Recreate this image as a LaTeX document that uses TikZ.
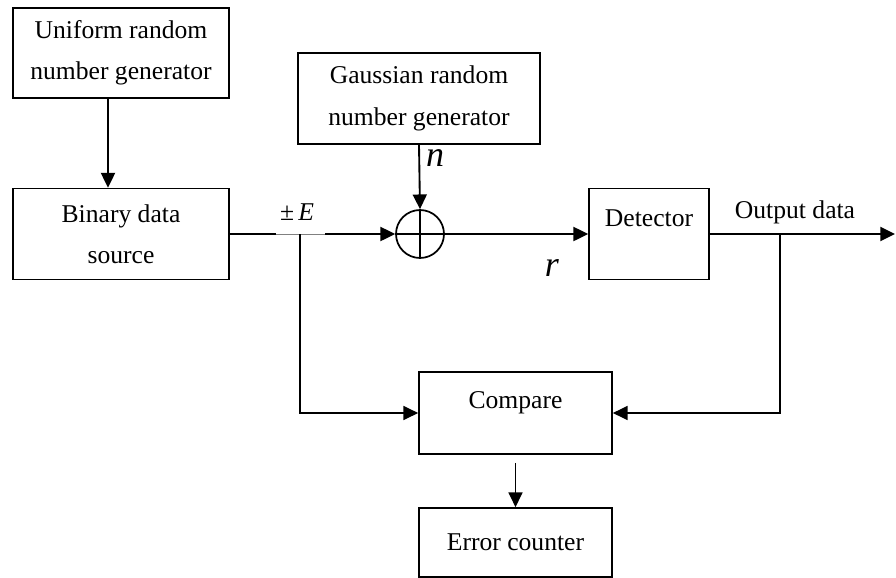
\documentclass[tikz,border=0pt]{standalone}
\usepackage{fontspec}
\setmainfont{Liberation Serif}
\usetikzlibrary{arrows.meta}

\begin{document}
\begin{tikzpicture}[x=0.75pt, y=-0.75pt,
  block/.style={draw, line width=1.3pt, align=center, inner sep=0pt,
    font=\fontsize{19.2}{31}\selectfont},
  wire/.style={line width=1.4pt},
  branch/.style={line width=1pt},
  tip/.style={-{Triangle[length=11pt, width=10.5pt]}},
  lbl/.style={font=\fontsize{19.2}{22}\selectfont, inner sep=0pt}]

\useasboundingbox (0,0) rectangle (896,578);

% Blocks
\node[block, minimum width=162pt, minimum height=67.5pt] (uni) at (121,53)
  {Uniform random\\number generator};
\node[block, minimum width=162pt, minimum height=68.25pt] (bin) at (121,234)
  {Binary data\\source};
\node[block, minimum width=181.5pt, minimum height=68.25pt] (gauss) at (419,98.5)
  {Gaussian random\\number generator};
\node[block, minimum width=90pt, minimum height=68.25pt, text depth=24pt] (det) at (649,234)
  {Detector};
\node[block, minimum width=144.75pt, minimum height=61.5pt, text depth=19pt] (cmp) at (515.5,413)
  {Compare};
\node[block, minimum width=144.75pt, minimum height=51.75pt] (err) at (515.5,542.5)
  {Error counter};

% Summing junction
\node[draw, circle, line width=1.3pt, minimum size=36pt, inner sep=0pt] (sum) at (420,234) {};
\draw[line width=1.3pt] (sum.north) -- (sum.south);
\draw[line width=1.3pt] (sum.west) -- (sum.east);

% Tap points
\coordinate (gapL) at (276,234);
\coordinate (gapR) at (325,234);
\coordinate (tap) at (300,234);
\coordinate (tapout) at (780,234);
\coordinate (out) at (895,234);

% Connectors
\draw[wire, tip] ([xshift=-9.75pt]uni.south) -- ([xshift=-9.75pt]bin.north);
\draw[wire] (bin.east) -- (gapL);
\draw[gray, line width=0.7pt] (gapL) -- (gapR);
\draw[wire, tip] (gapR) -- (sum.west);
\draw[branch, tip] (tap) |- (cmp.west);
\draw[wire, tip] (gauss.south) -- (sum.north);
\draw[wire, tip] (sum.east) -- (det.west);
\draw[wire, tip] (det.east) -- (out);
\draw[branch, tip] (tapout) |- (cmp.east);
\draw[branch, tip] ([yshift=-6pt]cmp.south) -- (err.north);

% Labels
\node[lbl] (pmE) at (297,212) {±\,\textit{E}};
\node[lbl, font=\fontsize{27}{30}\selectfont] (nlbl) at (435,158) {\textit{n}};
\node[lbl, font=\fontsize{27}{30}\selectfont] (rlbl) at (552,268) {\textit{r}};
\node[lbl] (outlbl) at (795,212) {Output data};

\end{tikzpicture}
\end{document}
